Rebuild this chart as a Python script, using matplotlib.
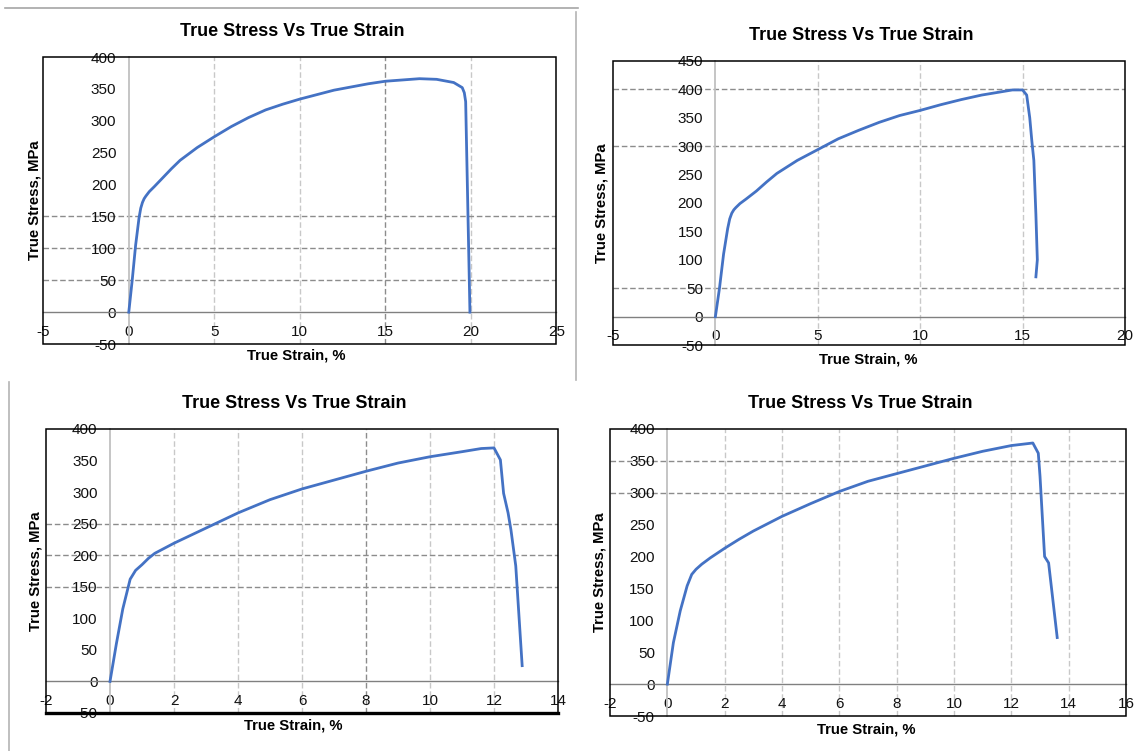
"""
Four true stress / true strain curves, Excel-style panels (2x2)
"""
import numpy as np
import matplotlib
matplotlib.use('Agg')
import matplotlib.pyplot as plt
from matplotlib.patches import Rectangle
from matplotlib.lines import Line2D

plt.rcParams['font.family'] = ['Liberation Sans', 'DejaVu Sans']
plt.rcParams['axes.unicode_minus'] = False

# Specimen 1 (top left)
strain_1 = [0, 0.2, 0.4, 0.6, 0.7, 0.8, 0.9, 1.0, 1.2, 1.5, 2, 2.5, 3, 4, 5, 6, 7, 8,
            9, 10, 11, 12, 13, 14, 15, 16, 17, 18, 19, 19.5, 19.62, 19.7, 19.95]
stress_1 = [0, 50, 105, 148, 163, 172, 178, 182, 189, 197, 211, 225, 238, 258, 275,
            291, 305, 317, 326, 334, 341, 348, 353, 358, 362, 364, 366, 365, 360, 352,
            344, 330, 0]

# Specimen 2 (top right)
strain_2 = [0, 0.2, 0.4, 0.6, 0.7, 0.8, 0.9, 1.0, 1.2, 1.5, 2, 2.5, 3, 4, 5, 6, 7, 8,
            9, 10, 11, 12, 13, 14, 14.5, 15.0, 15.2, 15.35, 15.45, 15.55, 15.65, 15.72,
            15.65]
stress_2 = [0, 50, 110, 155, 172, 182, 188, 192, 199, 207, 221, 237, 252, 275, 294,
            313, 328, 342, 354, 363, 373, 382, 390, 396, 399, 399, 390, 350, 310, 275,
            180, 100, 70]

# Specimen 3 (bottom left)
strain_3 = [0, 0.2, 0.4, 0.63, 0.8, 1.0, 1.2, 1.4, 1.7, 2, 2.5, 3, 4, 5, 6, 7, 8, 9,
            10, 11, 11.6, 12.0, 12.2, 12.3, 12.44, 12.53, 12.68, 12.88]
stress_3 = [0, 60, 115, 162, 176, 185, 195, 203, 211, 219, 231, 243, 267, 288, 305,
            319, 333, 346, 356, 364, 369, 370, 351, 298, 267, 240, 183, 25]

# Specimen 4 (bottom right)
strain_4 = [0, 0.21, 0.45, 0.69, 0.85, 1.0, 1.2, 1.5, 2, 2.5, 3, 4, 5, 6, 7, 8, 9, 10,
            11, 12, 12.75, 12.94, 13.0, 13.16, 13.3, 13.5, 13.6]
stress_4 = [0, 65, 115, 154, 172, 180, 188, 198, 213, 227, 240, 263, 283, 302, 318,
            330, 342, 354, 365, 374, 378, 362, 326, 200, 190, 112, 73]

title = 'True Stress Vs True Strain'
xlabel = 'True Strain, %'
ylabel = 'True Stress, MPa'

LINE_BLUE = '#4472C4'
GRID_LIGHT = '#c8c8c8'
GRID_DARK = '#8c8c8c'

fig = plt.figure(figsize=(11.36, 7.51), dpi=100)

panels = [
    # rect, data, xlim, xstep, ylim, ystep, light vgrid, dark vgrid, hgrid, label coords
    dict(rect=[0.0381, 0.5419, 0.4516, 0.3822], x=strain_1, y=stress_1,
         xlim=(-5, 25), xstep=5, ylim=(-50, 400), ystep=50,
         vlight=[5, 10, 20], vdark=[15], hgrid=[50, 100, 150],
         xl=(0.493, -0.017), yl=(-0.004, 0.5)),
    dict(rect=[0.5396, 0.5406, 0.4507, 0.3782], x=strain_2, y=stress_2,
         xlim=(-5, 20), xstep=5, ylim=(-50, 450), ystep=50,
         vlight=[5, 10, 15], vdark=[], hgrid=[50, 300, 400],
         xl=(0.498, -0.025), yl=(-0.008, 0.5)),
    dict(rect=[0.0405, 0.0506, 0.4507, 0.3782], x=strain_3, y=stress_3,
         xlim=(-2, 14), xstep=2, ylim=(-50, 400), ystep=50,
         vlight=[2, 4, 6, 10, 12], vdark=[8], hgrid=[150, 200, 250],
         xl=(0.482, -0.021), yl=(-0.006, 0.5)),
    dict(rect=[0.5370, 0.0466, 0.4542, 0.3822], x=strain_4, y=stress_4,
         xlim=(-2, 16), xstep=2, ylim=(-50, 400), ystep=50,
         vlight=[2, 4, 6, 8, 10, 12, 14], vdark=[], hgrid=[300, 350],
         xl=(0.496, -0.021), yl=(-0.006, 0.5)),
]

for i, p in enumerate(panels):
    ax = fig.add_axes(p['rect'])
    ax.set_xlim(*p['xlim'])
    ax.set_ylim(*p['ylim'])
    ax.set_xticks(np.arange(p['xlim'][0], p['xlim'][1] + 1, p['xstep']))
    ax.set_yticks(np.arange(p['ylim'][0], p['ylim'][1] + 1, p['ystep']))

    # gridlines (only those visible in the original)
    for gx in p['vlight']:
        ax.axvline(gx, color=GRID_LIGHT, lw=1.0, dashes=(4, 2), zorder=1)
    for gx in p['vdark']:
        ax.axvline(gx, color=GRID_DARK, lw=1.0, dashes=(4, 2), zorder=1)
    for gy in p['hgrid']:
        ax.axhline(gy, color=GRID_DARK, lw=1.0, dashes=(4, 2), zorder=1)

    ax.plot(p['x'], p['y'], color=LINE_BLUE, lw=2.0, zorder=3)

    # axes cross at zero, Excel style
    ax.spines['left'].set_position(('data', 0))
    ax.spines['bottom'].set_position(('data', 0))
    ax.spines['left'].set_color('#c0c0c0')
    ax.spines['left'].set_linewidth(1.3)
    ax.spines['bottom'].set_color('#808080')
    ax.spines['bottom'].set_linewidth(1.0)
    ax.spines['top'].set_visible(False)
    ax.spines['right'].set_visible(False)
    ax.tick_params(length=0, pad=9, labelsize=11, colors='#111111')

    ax.add_patch(Rectangle((0, 0), 1, 1, transform=ax.transAxes, fill=False,
                           edgecolor='black', lw=1.1, clip_on=False, zorder=5))
    if i == 2:
        ax.plot([0, 1], [0, 0], transform=ax.transAxes, color='black', lw=2.4,
                clip_on=False, zorder=5)

    ax.set_title(title, fontsize=13, fontweight='bold', pad=15, x=0.485)
    ax.set_xlabel(xlabel, fontsize=10.7, fontweight='bold')
    ax.set_ylabel(ylabel, fontsize=10.7, fontweight='bold')
    ax.xaxis.set_label_coords(*p['xl'])
    ax.yaxis.set_label_coords(*p['yl'])

# screenshot borders around the Excel chart objects
fig.add_artist(Line2D([5 / 1136, 578 / 1136], [1 - 8 / 751, 1 - 8 / 751],
                      color='#a6a6a6', lw=1.2))
fig.add_artist(Line2D([576 / 1136, 576 / 1136], [1 - 12 / 751, 1 - 380 / 751],
                      color='#b4b4b4', lw=1.2))
fig.add_artist(Line2D([9 / 1136, 9 / 1136], [1 - 382 / 751, 0],
                      color='#b4b4b4', lw=1.2))

plt.savefig('out.png', dpi=100)
